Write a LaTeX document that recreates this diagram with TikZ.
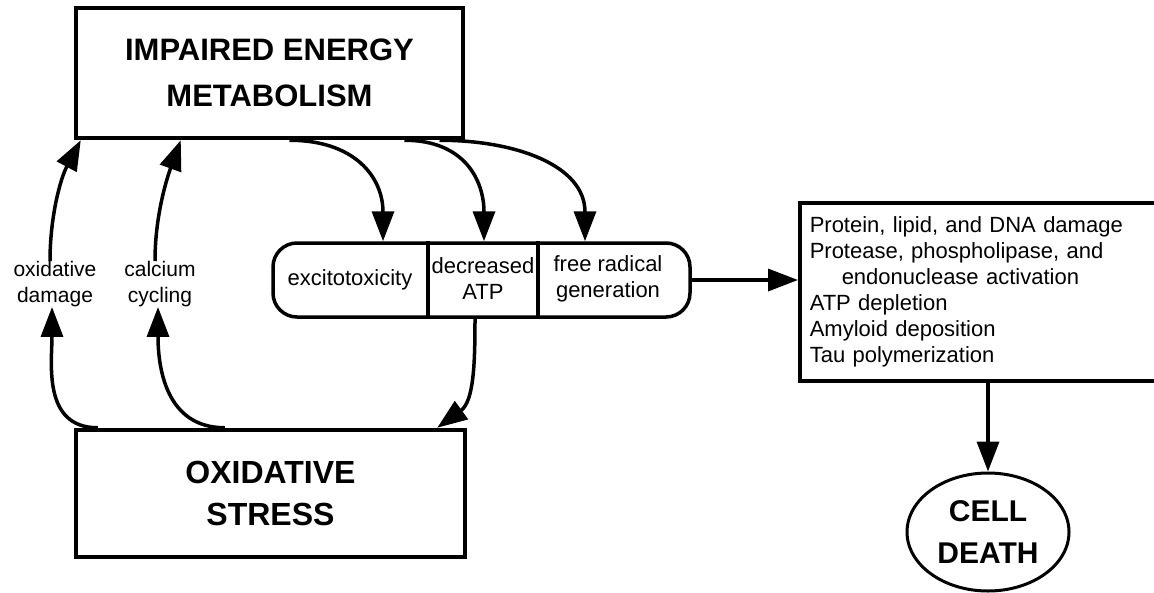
\documentclass[tikz,border=0pt]{standalone}
\usepackage{fontspec}
\setmainfont{Liberation Sans}
\usetikzlibrary{arrows.meta,shapes.geometric}
\begin{document}
\begin{tikzpicture}[x=1pt,y=-1pt,
  bigbox/.style={draw,line width=4.5pt,inner sep=0pt,align=center},
  bigfont/.style={font=\bfseries\fontsize{31}{46}\selectfont},
  smallfont/.style={font=\fontsize{22}{26}\selectfont},
  lbl/.style={align=center,inner xsep=2pt,inner ysep=0pt,font=\fontsize{21}{26}\selectfont},
  arr/.style={line width=3.5pt,-{Triangle[length=30pt,width=22pt]}},
  thinbox/.style={draw,line width=3.5pt}
]
\clip (0,0) rectangle (1154,592);
\fill[white] (0,0) rectangle (1154,592);

% main boxes
\node[bigbox,bigfont,minimum width=387pt,minimum height=130pt] (iem) at (269.5,73) {IMPAIRED ENERGY\\METABOLISM};
\node[bigbox,minimum width=389pt,minimum height=127pt,font=\bfseries\fontsize{32}{42}\selectfont] (os) at (270.5,493.5) {OXIDATIVE\\STRESS};

% middle rounded box
\node[thinbox,rounded corners=24pt,minimum width=417pt,minimum height=74pt,inner sep=0pt] (mid) at (481.5,280) {};
\draw[line width=3.5pt] ([xshift=-53.5pt]mid.north) -- ([xshift=-53.5pt]mid.south);
\draw[line width=3.5pt] ([xshift=56.5pt]mid.north) -- ([xshift=56.5pt]mid.south);
\node[smallfont,align=center,inner sep=1pt] (ex) at (350,280) {excitotoxicity};
\node[smallfont,align=center,inner sep=1pt] (datp) at (483,279) {decreased\\ATP};
\node[smallfont,align=center,inner sep=1pt] (frg) at (608,279) {free radical\\generation};

% right box
\node[thinbox,anchor=north west,minimum height=178pt,text width=410pt,inner xsep=10pt,inner ysep=0pt,align=left,smallfont] (rb) at (798,201)
 {Protein, lipid, and DNA damage\\
  Protease, phospholipase, and\\
  \hspace*{32pt}endonuclease activation\\
  ATP depletion\\
  Amyloid deposition\\
  Tau polymerization};

% cell death
\node[ellipse,draw,line width=3pt,minimum width=162pt,minimum height=118pt,inner sep=0pt,align=center,font=\bfseries\fontsize{30}{42}\selectfont] (cd) at (988,532) {CELL\\DEATH};

% labels
\node[lbl] (od) at (55,284) {oxidative\\damage};
\node[lbl] (cc) at (160,284) {calcium\\cycling};

% arrows from IEM to middle box
\draw[arr] ([xshift=20pt]iem.south) to[out=0,in=90,looseness=1.2] ([xshift=-98.5pt]mid.north);
\draw[arr] ([xshift=135pt]iem.south) to[out=0,in=90,looseness=1.2] ([xshift=2.5pt]mid.north);
\draw[arr] ([xshift=170pt]iem.south) to[out=0,in=90,looseness=1.1] ([xshift=103.5pt]mid.north);

% up arrows to IEM
\draw[arr] ([xshift=-5pt]od.north) to[out=90,in=-118,looseness=0.9] ([xshift=7pt]iem.south west);
\draw[arr] ([xshift=-5pt]cc.north) to[out=90,in=-110,looseness=0.9] ([xshift=107pt]iem.south west);

% up arrows from OS to labels
\draw[arr] ([xshift=24pt]os.north west) to[out=180,in=-90,looseness=1.1] ([xshift=-3pt]od.south);
\draw[arr] ([xshift=151pt]os.north west) to[out=180,in=-90,looseness=1.1] ([xshift=-2pt]cc.south);

% decreased ATP to OS
\draw[arr] ([xshift=-8pt]datp.south |- mid.south) to[out=-90,in=36,looseness=1] ([xshift=-30pt]os.north east);

% middle to right box
\draw[arr] (mid.east) -- (mid.east -| rb.west);

% right box to cell death
\draw[arr] (rb.south -| cd.north) -- (cd.north);
\end{tikzpicture}
\end{document}
